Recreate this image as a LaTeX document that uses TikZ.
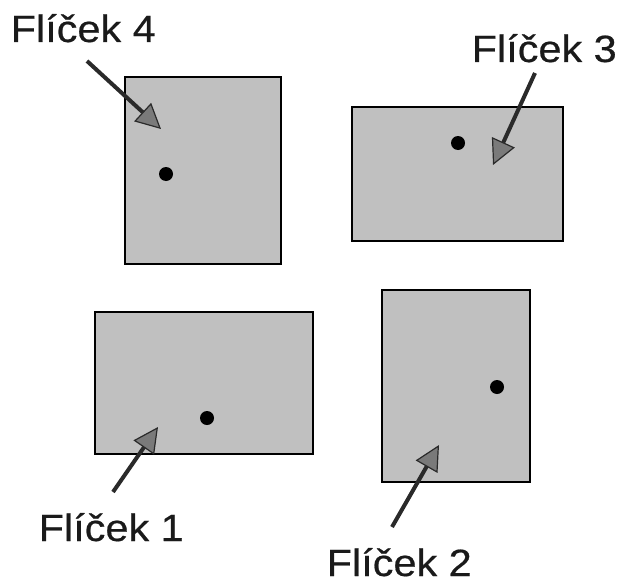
\documentclass[tikz,border=0pt]{standalone}
\usepackage{fontspec}
\setmainfont{Liberation Sans}
\newfontfamily\labfont[FakeBold=0.5]{Liberation Sans}
\usetikzlibrary{arrows.meta}
\definecolor{slicegray}{HTML}{C0C0C0}
\definecolor{headgray}{HTML}{7A7A7A}
\definecolor{shaftgray}{HTML}{2A2A2A}
\definecolor{textblack}{HTML}{1A1A1A}
\tikzset{
  slice/.style={draw=black, line width=1.5pt, fill=slicegray, inner sep=0pt, outer sep=0pt},
  centre/.style={circle, fill=black, inner sep=0pt, minimum size=14pt},
  pointer/.style={draw=shaftgray, line width=4pt,
    -{Triangle[length=25pt,width=25pt,fill=headgray,line width=1.2pt]}},
  label/.style={font=\labfont\fontsize{38}{44}\selectfont, text=textblack, anchor=base west, inner sep=0pt, text depth=0pt, xscale=1.09}
}
\begin{document}
\begin{tikzpicture}[x=1pt,y=-1pt]
\useasboundingbox (0,0) rectangle (617,583);
% slices
\node[slice, minimum width=156pt, minimum height=187pt] (r4) at (203,170.5) {};
\node[slice, minimum width=211pt, minimum height=134pt] (r3) at (457.5,174) {};
\node[slice, minimum width=218pt, minimum height=142pt] (r1) at (204,383) {};
\node[slice, minimum width=148pt, minimum height=192pt] (r2) at (456,386) {};
% centres
\node[centre] (d4) at (166,174) {};
\node[centre] (d3) at (458,143) {};
\node[centre] (d1) at (207,418) {};
\node[centre] (d2) at (497,387) {};
% labels
\node[label] (l4) at (10.5,42) {Flíček 4};
\node[label] (l3) at (471.5,62) {Flíček 3};
\node[label] (l1) at (38.5,541) {Flíček 1};
\node[label] (l2) at (326.5,576) {Flíček 2};
% arrow ends
\coordinate (t4) at (87,61);   \coordinate (h4) at (161,129);
\coordinate (t3) at (535,73);  \coordinate (h3) at (493,165);
\coordinate (t1) at (113,492); \coordinate (h1) at (158,427);
\coordinate (t2) at (392,527); \coordinate (h2) at (439,445);
\draw[pointer] (t4) -- (h4);
\draw[pointer] (t3) -- (h3);
\draw[pointer] (t1) -- (h1);
\draw[pointer] (t2) -- (h2);
\end{tikzpicture}
\end{document}
